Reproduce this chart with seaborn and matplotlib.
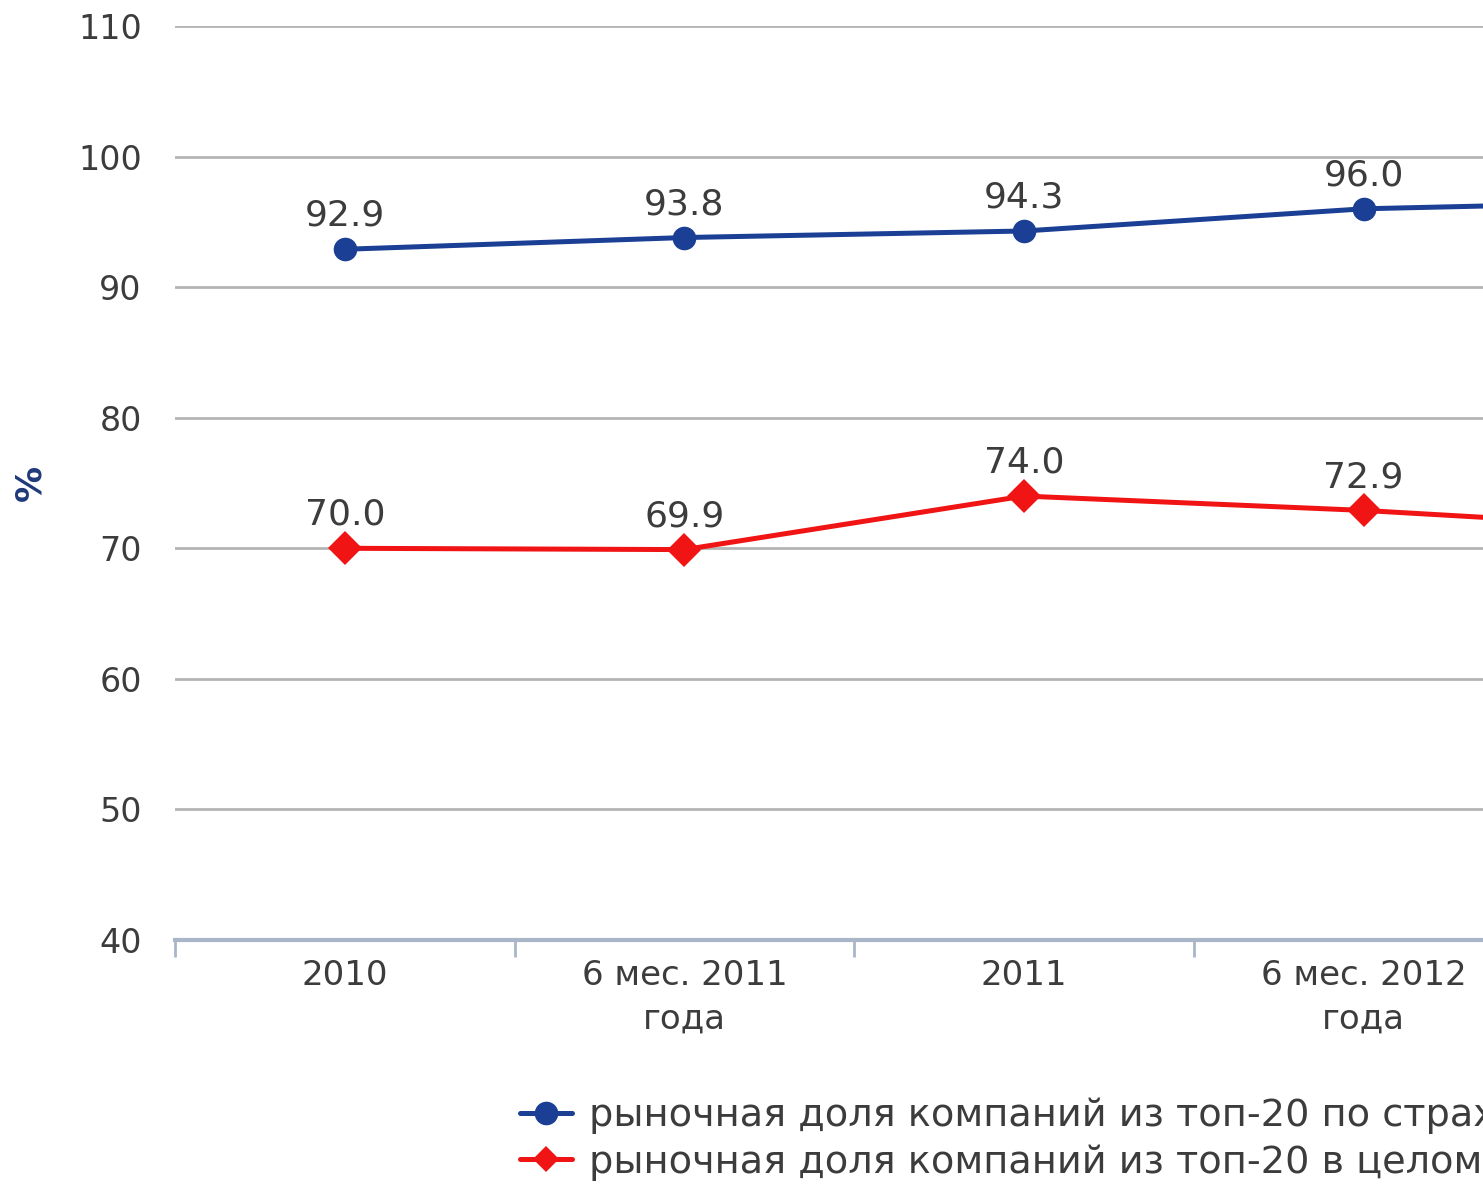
import numpy as np
import pandas as pd
import matplotlib
matplotlib.use('Agg')
import matplotlib.pyplot as plt
import seaborn as sns

# Данные (последняя точка за пределами обрезанного кадра — оценка)
periods = ['2010', '6 мес. 2011\nгода', '2011', '6 мес. 2012\nгода', '2012']
share_life = [92.9, 93.8, 94.3, 96.0, 96.6]
share_total = [70.0, 69.9, 74.0, 72.9, 71.4]
series_names = ['рыночная доля компаний из топ-20 по страхованию жизни',
                'рыночная доля компаний из топ-20 в целом по рынку']
y_ticks = [40, 50, 60, 70, 80, 90, 100, 110]

blue = '#1b3f95'
red = '#f01414'
text_col = '#3c3c3c'
axis_col = '#a9b6c8'
grid_col = '#b4b4b4'

sns.set_theme(style='white')
plt.rcParams['font.family'] = ['DejaVu Sans']

df = pd.DataFrame({
    'pos': list(range(len(periods))) * 2,
    'value': share_life + share_total,
    'series': [series_names[0]] * len(periods) + [series_names[1]] * len(periods),
})

fig = plt.figure(figsize=(14.83, 11.87), dpi=100)
# ось шире кадра: правая часть графика обрезана, как в оригинале
ax = fig.add_axes([175 / 1483, 1 - 940 / 1187, 1698 / 1483, 914 / 1187])

sns.lineplot(data=df, x='pos', y='value', hue='series', style='series',
             palette=[blue, red], markers=['o', 'D'], dashes=False,
             linewidth=3.6, markersize=17, markeredgewidth=0, ax=ax, legend=False)

for vals in [share_life, share_total]:
    for i, v in enumerate(vals):
        ax.annotate(f'{v:.1f}', (i, v), xytext=(0, 24), textcoords='offset points',
                    ha='center', va='center', fontsize=26, color=text_col)

ax.set_xlim(-0.5, len(periods) - 0.5)
ax.set_ylim(40, 110)
ax.set_yticks(y_ticks)
ax.set_xticks(range(len(periods)))
ax.set_xticklabels(periods, fontsize=24.5, color=text_col, linespacing=1.4)
ax.set_xticks(np.arange(-0.5, len(periods), 1), minor=True)
ax.tick_params(axis='y', labelsize=24, labelcolor=text_col, length=0, pad=24)
ax.tick_params(axis='x', which='major', length=0, pad=14)
ax.tick_params(axis='x', which='minor', bottom=True, length=12, width=2,
               color=axis_col, direction='out')
ax.yaxis.grid(True, color=grid_col, linewidth=2)
ax.set_axisbelow(True)
for s in ['top', 'right', 'left']:
    ax.spines[s].set_visible(False)
ax.spines['bottom'].set_color(axis_col)
ax.spines['bottom'].set_linewidth(3)
ax.set_xlabel('')
ax.set_ylabel('')
fig.text(30 / 1483, 1 - 483 / 1187, '%', rotation=90, fontsize=26, fontweight='bold',
         color='#1f3a7a', ha='center', va='center')

handles = [plt.Line2D([], [], color=blue, lw=3.6, marker='o', markersize=17, markeredgewidth=0),
           plt.Line2D([], [], color=red, lw=3.6, marker='D', markersize=13, markeredgewidth=0)]
fig.legend(handles, series_names, loc='upper left', bbox_to_anchor=(520 / 1483, 1 - 1098 / 1187),
           frameon=False, fontsize=27.5, borderpad=0, borderaxespad=0, handlelength=1.35,
           handletextpad=0.45, labelspacing=0.25, labelcolor=text_col)

fig.savefig('out.png', dpi=100)
